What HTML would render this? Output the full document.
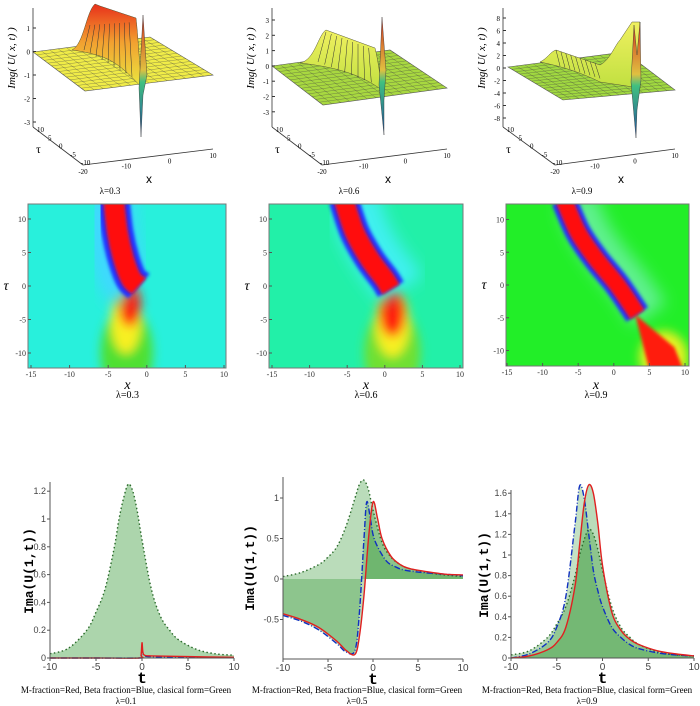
<!DOCTYPE html>
<html><head><meta charset="utf-8"><style>
html,body{margin:0;padding:0;background:#fff}
svg{display:block}
text{font-family:"Liberation Sans",sans-serif}
.ser{font-family:"Liberation Serif",serif}
.mono{font-family:"Liberation Mono",monospace;font-weight:bold}
</style></head><body>
<svg id="fig" width="700" height="706" viewBox="0 0 700 706" xmlns="http://www.w3.org/2000/svg">
<defs>
<filter id="b2" x="-50%" y="-50%" width="200%" height="200%"><feGaussianBlur stdDeviation="1.5"/></filter>
<filter id="b5" x="-50%" y="-50%" width="200%" height="200%"><feGaussianBlur stdDeviation="5"/></filter>
<filter id="b8" x="-50%" y="-50%" width="200%" height="200%"><feGaussianBlur stdDeviation="8"/></filter>
<linearGradient id="ridge" x1="0" y1="0" x2="0" y2="1"><stop offset="0" stop-color="#e8301a"/><stop offset="0.45" stop-color="#f2a030"/><stop offset="1" stop-color="#eaea40"/></linearGradient>
<linearGradient id="ridgeG" x1="0" y1="0" x2="0" y2="1"><stop offset="0" stop-color="#f0f060"/><stop offset="1" stop-color="#c0e040"/></linearGradient>
<linearGradient id="spike" x1="0" y1="0" x2="0" y2="1"><stop offset="0" stop-color="#d03020"/><stop offset="0.45" stop-color="#e0c040"/><stop offset="0.55" stop-color="#40c080"/><stop offset="1" stop-color="#2050a0"/></linearGradient>
<clipPath id="c1"><rect x="28" y="204" width="198" height="164"/></clipPath>
<clipPath id="c2"><rect x="269" y="204" width="194" height="164"/></clipPath>
<clipPath id="c3"><rect x="506" y="204" width="183" height="162"/></clipPath>
</defs>
<g id="topg"></g><g id="midg"></g><g id="botg"></g>
</svg>
<script>
// ---------- bottom charts data ----------
const tA=[-10,-8,-6,-5,-4,-3,-2.5,-2,-1.5,-1,-0.5,0,1,2,3,4,6,8,10];
const classical=[0.03,0.07,0.2,0.33,0.5,0.8,1.0,1.15,1.25,1.2,1.05,0.85,0.5,0.3,0.2,0.13,0.06,0.03,0.02];
const t1=[-10,-5,-0.3,-0.1,0,0.1,0.3,1,5,10];
const red1=[0,0,0,0.02,0.11,0.04,0.02,0.015,0.01,0.005];
const blue1=[0,0,0,0.01,0.06,0.03,0.015,0.01,0.005,0.003];
const t2g=[-10,-8,-6,-5,-4,-3,-2,-1.5,-1,-0.5,0,1,2,3,4,6,8,10];
const green2=[0.03,0.08,0.18,0.27,0.4,0.65,1.0,1.17,1.22,1.1,0.85,0.45,0.27,0.18,0.13,0.08,0.05,0.03];
const t2r=[-10,-8,-6,-4,-3,-2,-1.5,-1,-0.5,0,0.5,1,2,3,4,6,8,10];
const red2=[-0.43,-0.5,-0.6,-0.77,-0.88,-0.93,-0.7,-0.2,0.5,0.95,0.75,0.5,0.28,0.18,0.13,0.09,0.06,0.05];
const t2b=[-10,-8,-6,-4,-3,-2,-1.5,-1,-0.7,-0.3,0,0.5,1.5,2.5,3.5,5.5,8,10];
const blue2=[-0.45,-0.52,-0.63,-0.8,-0.9,-0.88,-0.4,0.5,0.95,0.75,0.55,0.4,0.22,0.15,0.11,0.08,0.06,0.04];
const red3=[0.0,0.02,0.08,0.15,0.3,0.7,1.1,1.5,1.68,1.6,1.3,0.9,0.45,0.27,0.18,0.13,0.07,0.04,0.02];
const blue3=[0.0,0.04,0.15,0.3,0.6,1.3,1.67,1.55,1.2,0.85,0.65,0.5,0.3,0.2,0.13,0.09,0.05,0.03,0.02];
const xTicks=[-10,-5,0,5,10];
const yTicks1=[0,0.2,0.4,0.6,0.8,1,1.2];
const yTicks2=[-0.5,0,0.5,1];
const yTicks3=[0,0.2,0.4,0.6,0.8,1,1.2,1.4,1.6];

const NS="http://www.w3.org/2000/svg";
function mk(parent,tag,attrs,txt){const e=document.createElementNS(NS,tag);for(const k in attrs)e.setAttribute(k,attrs[k]);if(txt!==undefined)e.textContent=txt;parent.appendChild(e);return e;}
function smooth(pts){let d="M"+pts[0][0]+","+pts[0][1];for(let i=0;i<pts.length-1;i++){const p0=pts[Math.max(0,i-1)],p1=pts[i],p2=pts[i+1],p3=pts[Math.min(pts.length-1,i+2)];const c1=[p1[0]+(p2[0]-p0[0])/6,p1[1]+(p2[1]-p0[1])/6],c2=[p2[0]-(p3[0]-p1[0])/6,p2[1]-(p3[1]-p1[1])/6];d+=" C"+c1[0]+","+c1[1]+" "+c2[0]+","+c2[1]+" "+p2[0]+","+p2[1];}return d;}

const botG=document.getElementById('botg');
function lineChart(cfg){
  const g=mk(botG,'g',{});
  
  
  const X=t=>cfg.x0+(t+10)*cfg.sx, Y=v=>cfg.y0-v*cfg.sy;
  const base=Y(0);
  cfg.series.forEach(s=>{
    const pts=s.t.map((t,i)=>[X(t),Y(s.v[i])]);
    const d=smooth(pts);
    if(s.fill){const f=mk(g,'path',{d:d+" L"+pts[pts.length-1][0]+","+base+" L"+pts[0][0]+","+base+" Z",fill:"#3a9a3a","fill-opacity":s.fill,stroke:"none"});
      
      }
  });
  cfg.series.forEach(s=>{
    const pts=s.t.map((t,i)=>[X(t),Y(s.v[i])]);
    const p=mk(g,'path',{d:smooth(pts),fill:"none",stroke:s.color,"stroke-width":s.w||1.4,"stroke-dasharray":s.dash||""});
    
    
  });
  const ya=mk(g,'line',{x1:cfg.x0,x2:cfg.x0,y1:cfg.ytop,y2:cfg.ybot,stroke:"#555","stroke-width":1});
  
  
  const xa=mk(g,'line',{x1:cfg.x0,x2:X(10),y1:cfg.xaxisY,y2:cfg.xaxisY,stroke:"#555","stroke-width":1});
  
  
  xTicks.forEach(t=>{mk(g,'line',{x1:X(t),x2:X(t),y1:cfg.xaxisY,y2:cfg.xaxisY+3,stroke:"#555"});
    const l=mk(g,'text',{x:X(t),y:cfg.xaxisY+12,"font-size":10,"text-anchor":"middle",fill:"#444"},String(t));
    
    });
  cfg.yTicks.forEach(v=>{mk(g,'line',{x1:cfg.x0-3,x2:cfg.x0,y1:Y(v),y2:Y(v),stroke:"#555"});
    const l=mk(g,'text',{x:cfg.x0-4,y:Y(v)+3,"font-size":9,"text-anchor":"end",fill:"#444"},String(v));
    
    });
  const yt=mk(g,'text',{x:0,y:0,"font-size":13,"class":"mono","text-anchor":"middle",transform:"translate("+(cfg.x0-cfg.ylabOff)+","+((cfg.ytop+cfg.ybot)/2)+") rotate(-90)"},"Ima(U(1,t))");
  
  
  const xt=mk(g,'text',{x:X(0),y:cfg.xaxisY+25,"font-size":16,"class":"mono","text-anchor":"middle"},"t");
  
  
  const c1=mk(g,'text',{x:cfg.cx,y:693,"font-size":9,"class":"ser","text-anchor":"middle"},"M-fraction=Red, Beta fraction=Blue, clasical form=Green");
  
  
  const c2=mk(g,'text',{x:cfg.cx,y:704,"font-size":9,"class":"ser","text-anchor":"middle"},cfg.lam);
  
  
}
lineChart({name:'chart-lambda-0.1',x0:50,sx:9.2,y0:658,sy:139,ytop:482,ybot:660,xaxisY:658,yTicks:yTicks1,ylabOff:17,cx:126,lam:"λ=0.1",
 series:[{name:'classical',t:tA,v:classical,color:"#2a6a2a",dash:"1.5,2.5",fill:0.42},
 {name:'beta-fraction',t:t1,v:blue1,color:"#1030c0",dash:"6,2,1,2"},
 {name:'m-fraction',t:t1,v:red1,color:"#e02020"}]});
lineChart({name:'chart-lambda-0.5',x0:283,sx:9,y0:579,sy:81,ytop:477,ybot:659,xaxisY:659,yTicks:yTicks2,ylabOff:29,cx:357,lam:"λ=0.5",
 series:[{name:'classical',t:t2g,v:green2,color:"#2a6a2a",dash:"1.5,2.5",fill:0.35},
 {name:'beta-fraction',t:t2b,v:blue2,color:"#1030c0",dash:"6,2,1,2",fill:0.35},
 {name:'m-fraction',t:t2r,v:red2,color:"#e02020",fill:0.35}]});
lineChart({name:'chart-lambda-0.9',x0:511,sx:9.15,y0:658,sy:103,ytop:490,ybot:660,xaxisY:658,yTicks:yTicks3,ylabOff:23,cx:587,lam:"λ=0.9",
 series:[{name:'classical',t:tA,v:classical,color:"#2a6a2a",dash:"1.5,2.5",fill:0.35},
 {name:'beta-fraction',t:tA,v:blue3,color:"#1030c0",dash:"6,2,1,2",fill:0.3},
 {name:'m-fraction',t:tA,v:red3,color:"#e02020",fill:0.35}]});

// ---------- density plots ----------
const bandT1=[13,8,4,1,0];const bandX1=[-4.3,-3.8,-3,-2,-1];
const bandT2=[13,8,4,1,-0.5];const bandX2=[-5.5,-4,-2,0,0.8];
const bandT3=[13,8,4,0,-4.5];const bandX3=[-7,-5,-2.5,0.5,3.3];
const dTicksX=[-15,-10,-5,0,5,10];const dTicksT=[-10,-5,0,5,10];
const midG=document.getElementById('midg');
function density(c){
  const g=mk(midG,'g',{});
  
  
  const X=x=>c.x0+(x+15)*c.sx, T=t=>c.t0-t*c.st;
  const inner=mk(g,'g',{"clip-path":"url(#"+c.clip+")"});
  mk(inner,'rect',{x:c.fx,y:204,width:c.fw,height:c.fh,fill:c.bg});
  const lower=mk(inner,'g',{filter:"url(#b5)"});
  c.lower(lower,X,T);
  const pts=c.bt.map((t,i)=>[X(c.bx[i]),T(t)]);
  const d=smooth(pts);
  const bg=mk(inner,'g',{});
  mk(bg,'path',{d:d,fill:"none",stroke:c.halo,"stroke-width":c.hw,filter:"url(#b8)",transform:"translate("+c.hoff+",0)"});
  mk(bg,'path',{d:d,fill:"none",stroke:"#2030ff","stroke-width":c.bw,filter:"url(#b2)"});
  const r=mk(bg,'path',{d:d,fill:"none",stroke:"#ff1010","stroke-width":c.rw,filter:"url(#b2)"});
  
  
  if(c.after)c.after(inner,X,T);
  mk(g,'rect',{x:c.fx,y:204,width:c.fw,height:c.fh,fill:"none",stroke:"#777","stroke-width":1});
  dTicksX.forEach(x=>{mk(g,'line',{x1:X(x),x2:X(x),y1:204+c.fh,y2:204+c.fh-3,stroke:"#555"});
    const l=mk(g,'text',{x:X(x),y:204+c.fh+9,"font-size":8,"text-anchor":"middle",fill:"#333","class":"ser"},String(x));
    
    });
  dTicksT.forEach(t=>{mk(g,'line',{x1:c.fx,x2:c.fx+3,y1:T(t),y2:T(t),stroke:"#555"});
    const l=mk(g,'text',{x:c.fx-2,y:T(t)+3,"font-size":8,"text-anchor":"end",fill:"#333","class":"ser"},String(t));
    
    });
  const xt=mk(g,'text',{x:X(-2.5),y:389,"font-size":14,"text-anchor":"middle","class":"ser","font-style":"italic"},"x");
  
  
  const tt=mk(g,'text',{x:c.fx-22,y:T(0)+4,"font-size":14,"text-anchor":"middle","class":"ser","font-style":"italic"},"τ");
  
  
  const cap=mk(g,'text',{x:X(-2.5),y:c.capY,"font-size":10,"text-anchor":"middle","class":"ser"},c.lam);
  
  
}
density({name:'density-lambda-0.3',clip:'c1',x0:31,sx:7.72,t0:286,st:6.7,fx:28,fw:198,fh:164,bg:"#28f0dc",
 bt:bandT1,bx:bandX1,halo:"#40d8ff",hw:52,hoff:-6,bw:32,rw:21,lam:"λ=0.3",capY:398,
 lower:(g,X,T)=>{mk(g,'ellipse',{cx:X(-2.6),cy:T(-10),rx:26,ry:45,fill:"#50e030"});
   mk(g,'ellipse',{cx:X(-2.7),cy:T(-5),rx:15,ry:34,fill:"#f8f020"});
   mk(g,'ellipse',{cx:X(-2.2),cy:T(-2.8),rx:11,ry:22,fill:"#ff2010"});}});
density({name:'density-lambda-0.6',clip:'c2',x0:272,sx:7.52,t0:286,st:6.7,fx:269,fw:194,fh:164,bg:"#22f0a8",
 bt:bandT2,bx:bandX2,halo:"#40f0f0",hw:50,hoff:10,bw:30,rw:20,lam:"λ=0.6",capY:398,
 lower:(g,X,T)=>{mk(g,'ellipse',{cx:X(1),cy:T(-10),rx:28,ry:45,fill:"#70e030"});
   mk(g,'ellipse',{cx:X(1),cy:T(-5.5),rx:17,ry:34,fill:"#f8f020"});
   mk(g,'ellipse',{cx:X(1),cy:T(-4),rx:13,ry:24,fill:"#ff2010"});}});
density({name:'density-lambda-0.9',clip:'c3',x0:507,sx:7.12,t0:285,st:6.55,fx:506,fw:183,fh:162,bg:"#22ee28",
 bt:bandT3,bx:bandX3,halo:"#60f090",hw:40,hoff:12,bw:26,rw:17,lam:"λ=0.9",capY:398,
 lower:(g,X,T)=>{mk(g,'ellipse',{cx:X(7),cy:T(-11),rx:24,ry:26,fill:"#e8f020"});},
 after:(g,X,T)=>{const p=mk(g,'path',{d:"M"+X(3)+","+T(-4.5)+" L"+X(5)+","+T(-13)+" L"+X(9.8)+","+T(-13)+" L"+X(8.5)+","+T(-9.5)+" Z",fill:"#ff1a10",filter:"url(#b2)"});
   
   }});

// ---------- 3D surface plots ----------
const zTicks1=[1,0,-1,-2,-3];const zTicks2=[3,2,1,0,-1,-2,-3];const zTicks3=[8,6,4,2,0,-2,-4,-6,-8];
const topG=document.getElementById('topg');
function surf(c){
  const g=mk(topG,'g',{});
  
  
  const P=c.plane;
  const pl=mk(g,'polygon',{points:P.map(p=>p.join(",")).join(" "),fill:c.planeColor,stroke:"#555","stroke-width":0.6});
  
  
  for(let i=1;i<14;i++){const f=i/14;
    mk(g,'line',{x1:P[0][0]+(P[3][0]-P[0][0])*f,y1:P[0][1]+(P[3][1]-P[0][1])*f,x2:P[1][0]+(P[2][0]-P[1][0])*f,y2:P[1][1]+(P[2][1]-P[1][1])*f,stroke:"#444","stroke-width":0.4,opacity:0.7});
    mk(g,'line',{x1:P[0][0]+(P[1][0]-P[0][0])*f,y1:P[0][1]+(P[1][1]-P[0][1])*f,x2:P[3][0]+(P[2][0]-P[3][0])*f,y2:P[3][1]+(P[2][1]-P[3][1])*f,stroke:"#444","stroke-width":0.4,opacity:0.7});}
  const r=mk(g,'path',{d:c.ridge,fill:c.ridgeFill,stroke:"#553","stroke-width":0.5});
  
  
  for(let i=0;i<9;i++){const f=i/9;mk(g,'line',{x1:c.rl[0][0]+(c.rl[1][0]-c.rl[0][0])*f,y1:c.rl[0][1]+(c.rl[1][1]-c.rl[0][1])*f,x2:c.rl[2][0]+(c.rl[3][0]-c.rl[2][0])*f,y2:c.rl[2][1]+(c.rl[3][1]-c.rl[2][1])*f,stroke:"#333","stroke-width":0.5});}
  const s=mk(g,'path',{d:c.spike,fill:"url(#spike)",stroke:"#333","stroke-width":0.4});
  
  
  mk(g,'line',{x1:c.ax,y1:8,x2:c.ax,y2:127,stroke:"#333","stroke-width":0.8});
  c.zt.forEach((z,i)=>{const y=c.zy0+i*c.zdy;mk(g,'line',{x1:c.ax,x2:c.ax+3,y1:y,y2:y,stroke:"#333"});
    const l=mk(g,'text',{x:c.ax-3,y:y+3,"font-size":7,"text-anchor":"end","class":"ser"},String(z));
    
    });
  const zt=mk(g,'text',{x:0,y:0,"font-size":11,"class":"ser","font-style":"italic","text-anchor":"middle",transform:"translate("+(c.ax-18)+",58) rotate(-90)"},"Img( U( x,  t) )");
  
  
  mk(g,'line',{x1:c.ax,y1:127,x2:c.fx,y2:165,stroke:"#333","stroke-width":0.8});
  mk(g,'line',{x1:c.fx,y1:165,x2:c.rx,y2:149,stroke:"#333","stroke-width":0.8});
  ["10","5","0","-5","-10"].forEach((s,i)=>{const f=i/4;const l=mk(g,'text',{x:c.ax+4+(c.fx-c.ax-6)*f,y:132+33*f,"font-size":7,"class":"ser"},s);
    
    });
  ["-20","-10","0","10"].forEach((s,i)=>{const f=i/3;const l=mk(g,'text',{x:c.fx+(c.rx-c.fx)*f,y:174-16*f,"font-size":7,"class":"ser","text-anchor":"middle"},s);
    
    });
  const ta=mk(g,'text',{x:c.ax+3,y:153,"font-size":12,"class":"ser"},"τ");
  
  
  const xa=mk(g,'text',{x:c.fx+66,y:183,"font-size":12,"text-anchor":"middle"},"x");
  
  
  const cap=mk(g,'text',{x:c.fx+27,y:194,"font-size":9,"text-anchor":"middle","class":"ser"},c.lam);
  
  
}
surf({name:'surface-lambda-0.3',ax:33,fx:83,rx:213,zt:zTicks1,zy0:28,zdy:23.5,lam:"λ=0.3",
 plane:[[33,52],[150,37],[213,75],[85,91]],planeColor:"#f0ec48",
 ridge:"M72,50 C84,44 86,12 95,4 L100,6 L136,18 C138,35 139,60 142,88 C130,75 118,62 100,56 C90,53 80,51 72,50 Z",ridgeFill:"url(#ridge)",
 rl:[[90,25],[134,22],[84,50],[138,80]],
 spike:"M139,88 L143,15 L147,75 L143,95 L141,137 Z"});
surf({name:'surface-lambda-0.6',ax:272,fx:322,rx:447,zt:zTicks2,zy0:20,zdy:15.3,lam:"λ=0.6",
 plane:[[272,66],[390,50],[447,88],[323,105]],planeColor:"#a8d840",
 ridge:"M300,63 C315,60 318,35 326,30 L375,48 C378,60 380,75 382,90 C365,78 345,68 300,63 Z",ridgeFill:"url(#ridgeG)",
 rl:[[326,32],[374,50],[318,62],[378,85]],
 spike:"M379,85 L382,17 L386,70 L384,100 L384,135 Z"});
surf({name:'surface-lambda-0.9',ax:503,fx:555,rx:675,zt:zTicks3,zy0:18,zdy:12.5,lam:"λ=0.9",
 plane:[[508,67],[625,52],[675,90],[563,100]],planeColor:"#a0d840",
 ridge:"M540,62 C548,58 550,52 556,50 L600,65 C610,60 615,45 620,40 L632,22 L640,22 C640,50 640,70 640,88 L600,82 C580,72 560,66 540,62 Z",ridgeFill:"url(#ridgeG)",
 rl:[[556,50],[600,65],[560,66],[605,80]],
 spike:"M631,82 L634,25 L637,55 L640,22 L641,80 L637,110 L636,138 Z"});
</script>
</body></html>
